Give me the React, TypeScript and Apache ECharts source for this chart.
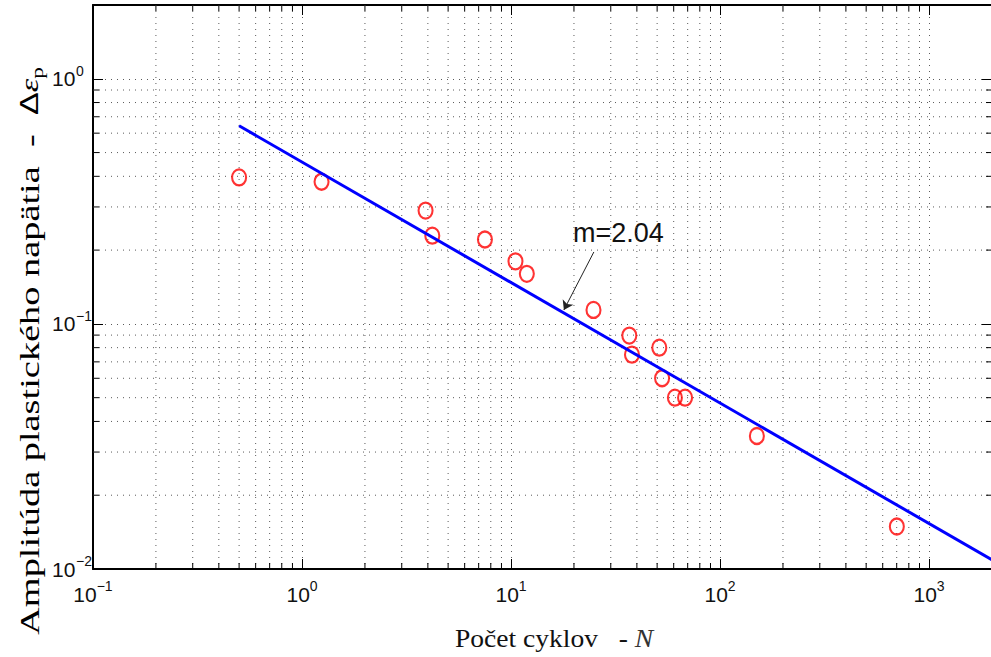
import React, { useEffect, useRef } from "react";
import * as echarts from "echarts";

// Measured data: number of cycles N vs. plastic strain amplitude
const cycles = [0.5, 1.24, 3.9, 4.2, 7.5, 10.5, 11.9, 24.8, 36.8, 37.9, 51.2, 52.8, 60.8, 68.0, 150, 701];
const strain = [0.396, 0.38, 0.29, 0.229, 0.221, 0.18, 0.16, 0.114, 0.0896, 0.0749, 0.08, 0.06, 0.05, 0.05, 0.0349, 0.0149];

// Fitted power-law line (end points)
const fitN = [0.5, 2000];
const fitStrain = [0.643, 0.0109];

// Annotation arrow (data coordinates)
const arrowFrom = [24.9, 0.1965];
const arrowTo = [17.9, 0.114];
const slopeLabel = "m=2.04";

// Axes
const xMin = 0.1;
const xMax = 2000;
const yMin = 0.01;
const yMax = 2;
const xMinorTicks = [
  0.2, 0.3, 0.4, 0.5, 0.6, 0.7, 0.8, 0.9,
  2, 3, 4, 5, 6, 7, 8, 9,
  20, 30, 40, 50, 60, 70, 80, 90,
  200, 300, 400, 500, 600, 700, 800, 900,
];
const yMinorTicks = [
  0.02, 0.03, 0.04, 0.05, 0.06, 0.07, 0.08, 0.09,
  0.2, 0.3, 0.4, 0.5, 0.6, 0.7, 0.8, 0.9,
];

const xTitle = "Počet cyklov   - ";
const xTitleVar = "N";
const yTitle = "Amplitúda plastického napätia  -  ";

const SANS = "'Liberation Sans', Arial, Helvetica, sans-serif";
const SERIF = "'Liberation Serif', 'Times New Roman', serif";

const powLabel = (v: number) => {
  const e = Math.round(Math.log10(v));
  const s = e < 0 ? "\u2212" + -e : String(e);
  return "{b|10}{s|" + s + "}";
};

const xRich = {
  b: { fontSize: 21, lineHeight: 30, fontFamily: SANS, color: "#111" },
  s: { fontSize: 14, lineHeight: 12, verticalAlign: "top", fontFamily: SANS, color: "#111" },
};
const yRich = {
  b: { fontSize: 21, lineHeight: 30, width: 24, align: "left", fontFamily: SANS, color: "#111" },
  s: { fontSize: 14, lineHeight: 14, width: 14, align: "left", verticalAlign: "top", fontFamily: SANS, color: "#111" },
};

const gridLine = { color: "#5a5a5a", width: 1, type: [1, 5] as any };

export default function App() {
  const ref = useRef<HTMLDivElement>(null);

  useEffect(() => {
    if (!ref.current) return;
    const chart = echarts.init(ref.current, undefined, { renderer: "svg" });

    const minorX = (params: any, api: any) => {
      const cs = params.coordSys;
      const x = api.coord([api.value(0), 1])[0];
      const top = cs.y;
      const bot = cs.y + cs.height;
      return {
        type: "group",
        children: [
          { type: "line", shape: { x1: x, y1: top, x2: x, y2: bot }, style: { stroke: "#5a5a5a", lineWidth: 1, lineDash: [1, 5] } },
          { type: "line", shape: { x1: x, y1: bot, x2: x, y2: bot - 6 }, style: { stroke: "#000", lineWidth: 1 } },
          { type: "line", shape: { x1: x, y1: top, x2: x, y2: top + 6 }, style: { stroke: "#000", lineWidth: 1 } },
        ],
      };
    };
    const minorY = (params: any, api: any) => {
      const cs = params.coordSys;
      const y = api.coord([1, api.value(1)])[1];
      const l = cs.x;
      const r = cs.x + cs.width;
      return {
        type: "group",
        children: [
          { type: "line", shape: { x1: l, y1: y, x2: r, y2: y }, style: { stroke: "#5a5a5a", lineWidth: 1, lineDash: [1, 5] } },
          { type: "line", shape: { x1: l, y1: y, x2: l + 6, y2: y }, style: { stroke: "#000", lineWidth: 1 } },
          { type: "line", shape: { x1: r, y1: y, x2: r - 6, y2: y }, style: { stroke: "#000", lineWidth: 1 } },
        ],
      };
    };

    const axisCommon = {
      type: "log",
      logBase: 10,
      axisLine: { show: true, onZero: false, lineStyle: { color: "#000", width: 2 } },
      axisTick: { show: true, inside: true, length: 10, lineStyle: { color: "#000", width: 1 } },
    };

    chart.setOption({
      animation: false,
      backgroundColor: "#fff",
      grid: { left: 93, top: 5, width: 899, height: 564, outerBoundsMode: "none", containLabel: false },
      xAxis: [
        {
          ...axisCommon,
          min: xMin,
          max: xMax,
          position: "bottom",
          axisLabel: { formatter: powLabel, rich: xRich, margin: 10, showMaxLabel: false, showMinLabel: true, hideOverlap: false },
          splitLine: { show: true, lineStyle: gridLine },
        },
        {
          ...axisCommon,
          min: xMin,
          max: xMax,
          position: "top",
          axisLabel: { show: false },
          splitLine: { show: false },
        },
      ],
      yAxis: [
        {
          ...axisCommon,
          min: yMin,
          max: yMax,
          position: "left",
          axisLabel: { formatter: powLabel, rich: yRich, margin: 3, align: "right", showMaxLabel: false, showMinLabel: true, hideOverlap: false },
          splitLine: { show: true, lineStyle: gridLine },
        },
        {
          ...axisCommon,
          min: yMin,
          max: yMax,
          position: "right",
          axisLabel: { show: false },
          splitLine: { show: false },
        },
      ],
      series: [
        {
          type: "custom",
          name: "minorX",
          silent: true,
          z: 1,
          renderItem: minorX,
          data: xMinorTicks.map((v) => [v, 1]),
        },
        {
          type: "custom",
          name: "minorY",
          silent: true,
          z: 1,
          renderItem: minorY,
          data: yMinorTicks.map((v) => [1, v]),
        },
        {
          type: "scatter",
          name: "data",
          z: 3,
          symbol: "path://M0,-1A1,1,0,1,1,0,1A1,1,0,1,1,0,-1Z",
          symbolSize: [14, 16],
          itemStyle: { color: "rgba(0,0,0,0)", borderColor: "#ff0000", borderWidth: 2.2 },
          emphasis: { disabled: true },
          data: cycles.map((n, i) => [n, strain[i]]),
        },
        {
          type: "line",
          name: "fit",
          z: 4,
          showSymbol: false,
          symbol: "none",
          lineStyle: { color: "#0000ff", width: 3 },
          emphasis: { disabled: true },
          data: fitN.map((n, i) => [n, fitStrain[i]]),
          markLine: {
            silent: true,
            symbol: ["none", "arrow"],
            symbolSize: 9,
            label: { show: false },
            lineStyle: { color: "#222", width: 1, type: "solid" },
            emphasis: { disabled: true },
            data: [[{ coord: arrowFrom }, { coord: arrowTo }]],
          },
        },
      ],
      graphic: [
        {
          type: "text",
          x: 573,
          y: 233,
          style: {
            text: slopeLabel,
            fontFamily: SANS,
            fontSize: 27,
            fill: "#111",
            align: "left",
            verticalAlign: "middle",
          },
        },
        {
          type: "text",
          x: 554,
          y: 638,
          scaleX: 1.06,
          style: {
            text: "{a|" + xTitle + "}{n|" + xTitleVar + "}",
            align: "center",
            verticalAlign: "middle",
            rich: {
              a: { fontFamily: SERIF, fontSize: 26, fill: "#111", color: "#111" },
              n: { fontFamily: SERIF, fontSize: 26, fontStyle: "italic", fill: "#333", color: "#333" },
            },
          },
        },
        {
          type: "text",
          x: 29,
          y: 351,
          rotation: Math.PI / 2,
          scaleX: 1.37,
          style: {
            text: "{a|" + yTitle + "}{d|\u0394}{e|\u03b5}{p|p}",
            align: "center",
            verticalAlign: "middle",
            rich: {
              a: { fontFamily: SERIF, fontSize: 28, lineHeight: 34, color: "#15153a" },
              d: { fontFamily: SANS, fontSize: 25, lineHeight: 34, color: "#333" },
              e: { fontFamily: SERIF, fontSize: 25, fontStyle: "italic", lineHeight: 34, color: "#333" },
              p: { fontFamily: SERIF, fontSize: 17, lineHeight: 26, verticalAlign: "bottom", color: "#333" },
            },
          },
        },
      ],
    });

    return () => chart.dispose();
  }, []);

  return (
    <div
      ref={ref}
      style={{ position: "fixed", left: 0, top: 0, width: 991, height: 657, background: "#fff" }}
    />
  );
}
